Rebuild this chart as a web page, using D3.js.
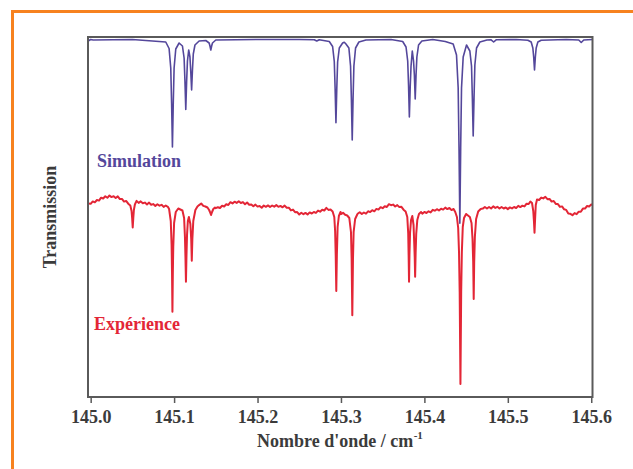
<!DOCTYPE html>
<html>
<head>
<meta charset="utf-8">
<script src="https://cdn.jsdelivr.net/npm/d3@7"></script>
<style>
  body { margin: 0; background: #fff; }
  svg { display: block; }
</style>
</head>
<body>
<div class="spectrum-div"></div>
<script>
//--------------------------- Data (wavenumber in cm-1, transmission in arbitrary offset units)

var xTicks = [145.0, 145.1, 145.2, 145.3, 145.4, 145.5, 145.6];
var seriesNames = ["Simulation", "Expérience"];
var axisLabels = ["Nombre d'onde / cm", "-1", "Transmission"];

var simData = [
  [144.997, 3.560], [145.000, 3.575], [145.003, 3.570], [145.050, 3.575],
  [145.090, 3.550], [145.094, 3.485], [145.096, 3.290], [145.097, 2.940], [145.098, 2.500],
  [145.099, 2.940], [145.100, 3.290], [145.102, 3.480], [145.106, 3.540],
  [145.110, 3.510], [145.112, 3.390], [145.113, 3.160], [145.114, 2.875], [145.115, 3.150],
  [145.116, 3.360], [145.1175, 3.470],
  [145.119, 3.400], [145.120, 3.250], [145.121, 3.070], [145.122, 3.270], [145.123, 3.430],
  [145.125, 3.520], [145.130, 3.560],
  [145.138, 3.565], [145.142, 3.540], [145.143, 3.510], [145.144, 3.470], [145.145, 3.510],
  [145.146, 3.540], [145.150, 3.570],
  [145.200, 3.575], [145.250, 3.575],
  [145.268, 3.573], [145.271, 3.560], [145.274, 3.573],
  [145.286, 3.555], [145.290, 3.505], [145.292, 3.355], [145.293, 3.085], [145.294, 2.743],
  [145.295, 3.085], [145.296, 3.350], [145.298, 3.490], [145.302, 3.540], [145.304, 3.548],
  [145.306, 3.530], [145.3095, 3.490], [145.3115, 3.310], [145.3125, 2.980], [145.3135, 2.570],
  [145.3145, 2.980], [145.3155, 3.310], [145.3175, 3.490], [145.3215, 3.550], [145.330, 3.570],
  [145.360, 3.575],
  [145.374, 3.555], [145.378, 3.500], [145.380, 3.360], [145.381, 3.120], [145.382, 2.800],
  [145.383, 3.100], [145.384, 3.310], [145.3855, 3.460],
  [145.387, 3.360], [145.388, 3.220], [145.389, 2.980], [145.390, 3.220], [145.391, 3.400],
  [145.393, 3.520], [145.397, 3.560], [145.410, 3.575],
  [145.425, 3.555], [145.4345, 3.530], [145.4385, 3.420], [145.4405, 3.090], [145.4415, 2.490],
  [145.4425, 1.737], [145.4435, 2.490], [145.4445, 3.090], [145.4465, 3.400], [145.4505, 3.520],
  [145.4545, 3.460], [145.4565, 3.310], [145.4575, 2.990], [145.4585, 2.610], [145.4595, 2.990],
  [145.4605, 3.320], [145.4625, 3.490], [145.4665, 3.550], [145.475, 3.570],
  [145.480, 3.572], [145.483, 3.550], [145.486, 3.572],
  [145.510, 3.575],
  [145.524, 3.568], [145.528, 3.550], [145.530, 3.490], [145.531, 3.400], [145.532, 3.270],
  [145.533, 3.400], [145.534, 3.490], [145.536, 3.550], [145.540, 3.568],
  [145.570, 3.575],
  [145.585, 3.570], [145.588, 3.545], [145.591, 3.570],
  [145.6015, 3.575]
];

var expData = [
  [144.997, 1.935], [145.000, 1.932], [145.0025, 1.956], [145.005, 1.947], [145.0075, 1.970],
  [145.010, 1.964], [145.0125, 1.993], [145.015, 1.985], [145.0175, 2.007], [145.020, 1.992],
  [145.0225, 2.015], [145.025, 1.999], [145.0275, 2.008], [145.030, 1.990], [145.0325, 2.006],
  [145.035, 1.979], [145.0375, 1.981], [145.040, 1.954], [145.0425, 1.961], [145.045, 1.933],
  [145.0475, 1.915], [145.049, 1.860], [145.0497, 1.790], [145.0504, 1.695], [145.0511, 1.790],
  [145.0518, 1.870], [145.053, 1.925],
  [145.055, 1.961], [145.0575, 1.941], [145.060, 1.956], [145.0625, 1.938], [145.065, 1.944],
  [145.0675, 1.926], [145.070, 1.944], [145.0725, 1.922], [145.075, 1.929], [145.0775, 1.911],
  [145.080, 1.928], [145.0825, 1.913], [145.085, 1.922], [145.0875, 1.901], [145.090, 1.915],
  [145.0925, 1.902],
  [145.094, 1.880], [145.096, 1.760], [145.097, 1.520], [145.0975, 1.250], [145.098, 0.853],
  [145.0985, 1.250], [145.099, 1.500], [145.100, 1.740], [145.102, 1.850], [145.105, 1.885],
  [145.1075, 1.875], [145.110, 1.865],
  [145.112, 1.790], [145.113, 1.600], [145.1136, 1.400], [145.1142, 1.153], [145.1148, 1.400],
  [145.1155, 1.620], [145.1165, 1.760], [145.1177, 1.800],
  [145.1195, 1.730], [145.1205, 1.580], [145.1212, 1.363], [145.1219, 1.580], [145.123, 1.760],
  [145.1255, 1.870], [145.128, 1.905],
  [145.130, 1.919], [145.1325, 1.935], [145.135, 1.911], [145.1375, 1.905],
  [145.140, 1.895], [145.142, 1.870], [145.143, 1.850], [145.1443, 1.820], [145.1455, 1.850],
  [145.147, 1.880], [145.149, 1.895],
  [145.150, 1.888], [145.1525, 1.898], [145.155, 1.890], [145.1575, 1.912], [145.160, 1.905],
  [145.1625, 1.927], [145.165, 1.920], [145.1675, 1.948], [145.170, 1.936], [145.1725, 1.953],
  [145.175, 1.941], [145.1775, 1.957], [145.180, 1.940], [145.1825, 1.949], [145.185, 1.927],
  [145.1875, 1.945], [145.190, 1.923], [145.1925, 1.926], [145.195, 1.907], [145.1975, 1.924],
  [145.200, 1.904], [145.2025, 1.910], [145.205, 1.893], [145.2075, 1.915], [145.210, 1.902],
  [145.2125, 1.916], [145.215, 1.900], [145.2175, 1.915], [145.220, 1.903], [145.2225, 1.919],
  [145.225, 1.902], [145.2275, 1.911], [145.230, 1.897], [145.2325, 1.914], [145.235, 1.892],
  [145.2375, 1.893], [145.240, 1.866], [145.2425, 1.874], [145.245, 1.848], [145.2475, 1.849],
  [145.250, 1.825], [145.2525, 1.843], [145.255, 1.828], [145.2575, 1.841], [145.260, 1.825],
  [145.2625, 1.846], [145.265, 1.835], [145.2675, 1.850], [145.270, 1.841], [145.2725, 1.864],
  [145.275, 1.853], [145.2775, 1.872], [145.280, 1.865], [145.2825, 1.891], [145.285, 1.871],
  [145.2875, 1.875],
  [145.290, 1.855], [145.292, 1.800], [145.293, 1.660], [145.2937, 1.420], [145.2944, 1.060],
  [145.2951, 1.420], [145.296, 1.700], [145.2975, 1.810], [145.2995, 1.850],
  [145.300, 1.829], [145.3025, 1.842], [145.305, 1.822],
  [145.3075, 1.815], [145.310, 1.790], [145.312, 1.650], [145.3128, 1.380], [145.3136, 0.817],
  [145.3144, 1.380], [145.3152, 1.650], [145.317, 1.780], [145.3195, 1.825],
  [145.320, 1.832], [145.3225, 1.848], [145.325, 1.830], [145.3275, 1.845], [145.330, 1.833],
  [145.3325, 1.857], [145.335, 1.849], [145.3375, 1.868], [145.340, 1.857], [145.3425, 1.881],
  [145.345, 1.874], [145.3475, 1.898], [145.350, 1.888], [145.3525, 1.908], [145.355, 1.900],
  [145.3575, 1.928], [145.360, 1.918], [145.3625, 1.924], [145.365, 1.905], [145.3675, 1.919],
  [145.370, 1.899], [145.3725, 1.902], [145.375, 1.873],
  [145.3775, 1.855], [145.3795, 1.800], [145.3806, 1.640], [145.3811, 1.420], [145.3816, 1.153],
  [145.3821, 1.420], [145.3828, 1.640], [145.384, 1.770], [145.3855, 1.810], [145.387, 1.720],
  [145.3879, 1.520], [145.3884, 1.400], [145.3889, 1.203], [145.3895, 1.440], [145.3902, 1.630],
  [145.3915, 1.770], [145.3935, 1.830], [145.396, 1.850],
  [145.3975, 1.833], [145.400, 1.851], [145.4025, 1.840], [145.405, 1.857], [145.4075, 1.846],
  [145.410, 1.872], [145.4125, 1.863], [145.415, 1.878], [145.4175, 1.865], [145.420, 1.882],
  [145.4225, 1.874], [145.425, 1.894], [145.4275, 1.879], [145.430, 1.890], [145.4325, 1.869],
  [145.435, 1.880],
  [145.437, 1.850], [145.439, 1.800], [145.4405, 1.690], [145.4415, 1.450], [145.4423, 1.050],
  [145.4432, 0.130], [145.4441, 1.050], [145.4449, 1.450], [145.446, 1.700], [145.4475, 1.790],
  [145.450, 1.830],
  [145.4545, 1.800], [145.4565, 1.740], [145.4577, 1.580], [145.4585, 1.350], [145.4591, 0.980],
  [145.4597, 1.350], [145.4605, 1.600], [145.462, 1.780], [145.4645, 1.855], [145.4675, 1.880],
  [145.470, 1.884], [145.4725, 1.900], [145.475, 1.885], [145.4775, 1.900], [145.480, 1.885],
  [145.4825, 1.906], [145.485, 1.891], [145.4875, 1.902], [145.490, 1.885], [145.4925, 1.900],
  [145.495, 1.885], [145.4975, 1.895], [145.500, 1.879], [145.5025, 1.896], [145.505, 1.886],
  [145.5075, 1.900], [145.510, 1.890], [145.5125, 1.911], [145.515, 1.899], [145.5175, 1.913],
  [145.520, 1.906], [145.5225, 1.933], [145.525, 1.930],
  [145.527, 1.955], [145.529, 1.940], [145.5305, 1.860], [145.5313, 1.760], [145.532, 1.643],
  [145.5327, 1.780], [145.5335, 1.920], [145.535, 1.975],
  [145.5375, 1.970], [145.540, 1.994], [145.5425, 1.986], [145.545, 2.002], [145.5475, 1.978],
  [145.550, 1.981], [145.5525, 1.954], [145.555, 1.960], [145.5575, 1.931], [145.560, 1.929],
  [145.5625, 1.901], [145.565, 1.906], [145.5675, 1.877], [145.570, 1.871], [145.5725, 1.836],
  [145.575, 1.832], [145.5775, 1.818], [145.580, 1.839], [145.5825, 1.828], [145.585, 1.853],
  [145.5875, 1.852], [145.590, 1.884], [145.5925, 1.884], [145.595, 1.910], [145.5975, 1.905],
  [145.600, 1.926], [145.6015, 1.920]
];

//--------------------------- SVG definition

var width = 633;
var height = 469;

var svg = d3.select("div.spectrum-div")
    .append("svg")
    .attr("width", width)
    .attr("height", height);

var fontFamily = "'Liberation Serif', 'Times New Roman', serif";
var simColor = "#54479b";
var expColor = "#e32636";
var inkColor = "#3b3b3b";

//--------------------------- Orange page border (top and left)

svg.append("line")
    .attr("x1", 12.5).attr("y1", 10)
    .attr("x2", 12.5).attr("y2", height)
    .style("stroke", "#f7821f")
    .style("stroke-width", 3);

svg.append("line")
    .attr("x1", 11).attr("y1", 11.5)
    .attr("x2", width).attr("y2", 11.5)
    .style("stroke", "#f7821f")
    .style("stroke-width", 3);

//--------------------------- Scales

var x = d3.scaleLinear()
    .domain([144.9968, 145.6015])
    .range([88, 592.5]);

var y = d3.scaleLinear()
    .domain([0, 3.6])
    .range([397, 37]);

var line = d3.line()
    .x(function (d) { return x(d[0]); })
    .y(function (d) { return y(d[1]); });

//--------------------------- Spectra

svg.append("path")
    .datum(expData)
    .attr("d", line)
    .style("fill", "none")
    .style("stroke", expColor)
    .style("stroke-width", 2)
    .style("stroke-linejoin", "round");

svg.append("path")
    .datum(simData)
    .attr("d", line)
    .style("fill", "none")
    .style("stroke", simColor)
    .style("stroke-width", 1.6)
    .style("stroke-linejoin", "round");

//--------------------------- Frame and axis

svg.append("rect")
    .attr("x", x.range()[0])
    .attr("y", y.range()[1])
    .attr("width", x.range()[1] - x.range()[0])
    .attr("height", y.range()[0] - y.range()[1])
    .style("fill", "none")
    .style("stroke", "#5a5a5a")
    .style("stroke-width", 2);

var xAxis = svg.append("g")
    .attr("transform", "translate(0," + y.range()[0] + ")")
    .call(d3.axisBottom(x)
        .tickValues(xTicks)
        .tickFormat(d3.format(".1f"))
        .tickSize(6)
        .tickSizeOuter(0)
        .tickPadding(7));

xAxis.select(".domain").remove();
xAxis.selectAll(".tick line")
    .style("stroke", "#5a5a5a")
    .style("stroke-width", 1.5);
xAxis.selectAll(".tick text")
    .style("font-family", fontFamily)
    .style("font-weight", "bold")
    .style("font-size", "18px")
    .style("fill", inkColor);

//--------------------------- Axis titles

var xTitle = svg.append("text")
    .attr("x", 257)
    .attr("y", 446.5)
    .style("font-family", fontFamily)
    .style("font-weight", "bold")
    .style("font-size", "18px")
    .style("fill", inkColor)
    .text(axisLabels[0]);

// superscript placed just after the main title
var titleEnd = 257 + xTitle.node().getComputedTextLength();

svg.append("text")
    .attr("x", titleEnd + 0.5)
    .attr("y", 438.5)
    .style("font-family", fontFamily)
    .style("font-weight", "bold")
    .style("font-size", "11px")
    .style("fill", inkColor)
    .text(axisLabels[1]);

svg.append("text")
    .attr("transform", "translate(56," + ((y.range()[0] + y.range()[1]) / 2) + ")rotate(-90)")
    .attr("text-anchor", "middle")
    .style("font-family", fontFamily)
    .style("font-weight", "bold")
    .style("font-size", "18px")
    .style("fill", inkColor)
    .text(axisLabels[2]);

//--------------------------- Series labels

svg.append("text")
    .attr("x", 97)
    .attr("y", 167)
    .style("font-family", fontFamily)
    .style("font-weight", "bold")
    .style("font-size", "18px")
    .style("fill", simColor)
    .text(seriesNames[0]);

svg.append("text")
    .attr("x", 94)
    .attr("y", 330)
    .style("font-family", fontFamily)
    .style("font-weight", "bold")
    .style("font-size", "18px")
    .style("fill", expColor)
    .text(seriesNames[1]);
</script>
</body>
</html>
